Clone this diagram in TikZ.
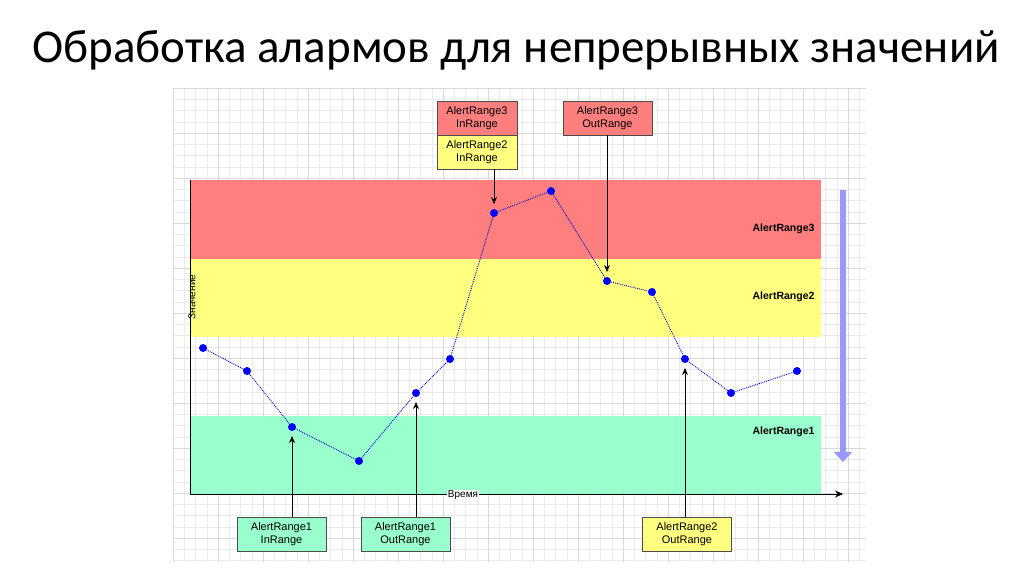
\documentclass[tikz,border=0pt]{standalone}
\usepackage{fontspec}
\setmainfont{Liberation Sans}
\newfontfamily\titlefont{Carlito}
\usetikzlibrary{arrows.meta}
\definecolor{rred}{HTML}{FF7F7F}
\definecolor{ryel}{HTML}{FFFF80}
\definecolor{rgrn}{HTML}{99FFCC}
\definecolor{ptblue}{HTML}{0000FF}
\definecolor{bigarrow}{HTML}{9999FF}
\tikzset{
  lbl/.style={draw=black!70,line width=0.5pt,font=\fontsize{11}{13}\selectfont,align=center,inner sep=1pt,minimum width=80pt,minimum height=33.5pt},
  pt/.style={circle,fill=ptblue,inner sep=0pt,minimum size=8pt},
  ptr/.style={-{Stealth[length=7pt,width=6pt]},line width=0.9pt},
  bandlbl/.style={font=\bfseries\fontsize{10.5}{12}\selectfont,anchor=east}
}
\begin{document}
\begin{tikzpicture}[x=1pt,y=-1pt]
\useasboundingbox (0,0) rectangle (1024,574);
\fill[white] (0,0) rectangle (1024,574);
\node[font=\titlefont\fontsize{47}{54}\selectfont] (title) at (516,50) {Обработка алармов для непрерывных значений};
% grid
\foreach \i in {0,...,61} {
  \draw[black!8,line width=0.4pt] (173+\i*11.25,88)--(173+\i*11.25,562);
}
\foreach \j in {0,...,42} {
  \draw[black!8,line width=0.4pt] (173,88+\j*11.25)--(866,88+\j*11.25);
}
\foreach \i in {0,...,15} {
  \draw[black!15,line width=0.5pt] (173+\i*45,88)--(173+\i*45,562);
}
\foreach \j in {0,...,10} {
  \draw[black!15,line width=0.5pt] (173,88+\j*45)--(866,88+\j*45);
}
% bands
\fill[rred] (190,180) rectangle (821,259);
\fill[ryel] (190,259) rectangle (821,337);
\fill[rgrn] (190,416) rectangle (821,494);
\node[bandlbl] (l3) at (818,229) {AlertRange3};
\node[bandlbl] (l2) at (818,297) {AlertRange2};
\node[bandlbl] (l1) at (818,432) {AlertRange1};
% axes
\coordinate (o) at (190,494);
\coordinate (yt) at (190,180);
\coordinate (xt) at (843,494);
\draw[line width=0.8pt] (o)--(yt);
\draw[line width=0.8pt,-{Stealth[length=8pt,width=7pt]}] (o)--(xt);
\node[rotate=90,font=\fontsize{10}{11}\selectfont,inner sep=1pt] (ylab) at (192,297) {Значение};
\node[fill=white,font=\fontsize{10}{11}\selectfont,inner sep=0.5pt] (xlab) at (463,495) {Время};
% big arrow
\coordinate (ba1) at (843,190);
\coordinate (ba2) at (843,462);
\draw[bigarrow,line width=6pt,-{Triangle[length=10pt,width=18pt]}] (ba1)--(ba2);
% points
\foreach \n/\x/\y in {p1/203/348,p2/247/371,p3/292/427,p4/359/461,p5/416/393,p6/450/359,p7/494/213,p8/551/191,p9/607/281,p10/652/292,p11/685/359,p12/731/393,p13/797/371}
  \coordinate (\n) at (\x,\y);
\draw[ptblue!80!black,densely dotted,line width=0.9pt] (p1)--(p2)--(p3)--(p4)--(p5)--(p6)--(p7)--(p8)--(p9)--(p10)--(p11)--(p12)--(p13);
\foreach \n in {p1,p2,p3,p4,p5,p6,p7,p8,p9,p10,p11,p12,p13} \node[pt] (d\n) at (\n) {};
% labels
\node[lbl,fill=rred] (a3in) at (477,118) {AlertRange3\\InRange};
\node[lbl,fill=ryel,anchor=north] (a2in) at (a3in.south) {AlertRange2\\InRange};
\node[lbl,fill=rred,minimum width=89pt] (a3out) at (607.5,118) {AlertRange3\\OutRange};
\node[lbl,fill=rgrn,minimum width=89pt] (a1in) at (281.5,534) {AlertRange1\\InRange};
\node[lbl,fill=rgrn,minimum width=89pt] (a1out) at (405.5,534) {AlertRange1\\OutRange};
\node[lbl,fill=ryel,minimum width=89pt] (a2out) at (687,534) {AlertRange2\\OutRange};
\draw[ptr] (a2in.south -| p7) -- ([yshift=9pt]p7);
\draw[ptr] (a3out.south -| p9) -- ([yshift=9pt]p9);
\draw[ptr] (a1in.north -| p3) -- ([yshift=-9pt]p3);
\draw[ptr] (a1out.north -| p5) -- ([yshift=-9pt]p5);
\draw[ptr] (a2out.north -| p11) -- ([yshift=-9pt]p11);
\end{tikzpicture}
\end{document}
